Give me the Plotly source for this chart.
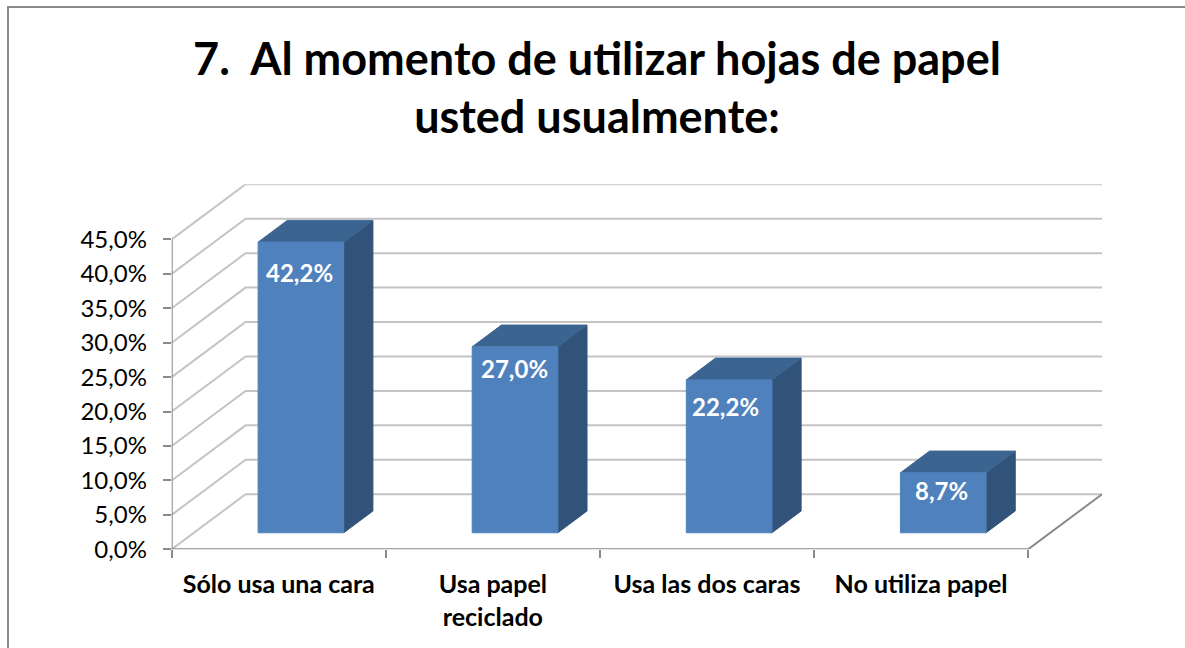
import plotly.graph_objects as go

categories = ["Sólo usa una cara", "Usa papel<br>reciclado", "Usa las dos caras", "No utiliza papel"]
values = [42.2, 27.0, 22.2, 8.7]
value_labels = ["42,2%", "27,0%", "22,2%", "8,7%"]
y_ticks = [0, 5, 10, 15, 20, 25, 30, 35, 40, 45]
y_tick_labels = ["0,0%", "5,0%", "10,0%", "15,0%", "20,0%", "25,0%", "30,0%", "35,0%", "40,0%", "45,0%"]
title_text = "7.\u00a0\u00a0Al momento de utilizar hojas de papel<br>usted usualmente:"

W, H = 1185, 648
# oblique projection of the depth axis, in axis units
DX, DY = 0.345, 8.0
BAR_W = 0.40
D_FRONT, D_BACK = 0.30, 0.695
FRONT, TOP, SIDE = "#4F81BD", "#3C6491", "#325379"
GRID, AXIS = "#C4C4C4", "#8A8A8A"
# hand-placed data labels in the reference (pixels from bar top centre)
label_dx = [-1, -1, -4, -2]
label_dy = [-30, -22, -27, -18]


def proj(x, y, d):
    return x + d * DX, y + d * DY


fig = go.Figure()


def line(pts, color, width=2):
    fig.add_trace(go.Scatter(x=[p[0] for p in pts], y=[p[1] for p in pts], mode="lines",
                             line=dict(color=color, width=width), cliponaxis=False,
                             hoverinfo="skip", showlegend=False))


def face(pts, color):
    pts = pts + [pts[0]]
    fig.add_trace(go.Scatter(x=[p[0] for p in pts], y=[p[1] for p in pts], mode="lines", fill="toself",
                             fillcolor=color, line=dict(color=color, width=1), cliponaxis=False,
                             hoverinfo="skip", showlegend=False))


n = len(categories)
for t in y_ticks:
    line([proj(0, t, 0), proj(0, t, 1), proj(n, t, 1)], GRID)
line([proj(0, 0, 0), proj(0, y_ticks[-1], 0)], AXIS)
line([proj(0, 0, 0), proj(n, 0, 0), proj(n, 0, 1)], AXIS)

annotations = []
for i, v in enumerate(values):
    x0, x1 = i + 0.5 - BAR_W / 2, i + 0.5 + BAR_W / 2
    face([proj(x1, 0, D_FRONT), proj(x1, 0, D_BACK), proj(x1, v, D_BACK), proj(x1, v, D_FRONT)], SIDE)
    face([proj(x0, v, D_FRONT), proj(x0, v, D_BACK), proj(x1, v, D_BACK), proj(x1, v, D_FRONT)], TOP)
    face([proj(x0, 0, D_FRONT), proj(x1, 0, D_FRONT), proj(x1, v, D_FRONT), proj(x0, v, D_FRONT)], FRONT)
    cx, cy = proj(i + 0.5, v, D_FRONT)
    annotations.append(dict(x=cx, y=cy, xref="x", yref="y", text=value_labels[i], showarrow=False,
                            xshift=label_dx[i], yshift=label_dy[i], xanchor="center", yanchor="middle",
                            font=dict(family="Lato", size=24, color="white", weight="bold")))

fig.update_layout(
    width=W, height=H, autosize=False,
    margin=dict(l=0, r=0, t=0, b=0),
    paper_bgcolor="white", plot_bgcolor="rgba(0,0,0,0)",
    showlegend=False,
    title=dict(text=title_text, x=597 / W, xanchor="center", y=1 - 74.5 / H, yanchor="middle",
               font=dict(family="Lato", size=45, color="black", weight="bold")),
    xaxis=dict(domain=[171.7 / W, 1102 / W], range=[0, n + DX], showgrid=False, zeroline=False, showline=False,
               automargin=False,
               tickmode="array", tickvals=[i + 0.5 for i in range(n)], ticktext=categories,
               ticks="outside", ticklen=0, ticklabelstandoff=13,
               tickfont=dict(family="Lato", size=25, color="black", weight="bold"),
               minor=dict(tickmode="array", tickvals=list(range(n + 1)), ticks="outside", ticklen=8,
                          tickcolor=AXIS, tickwidth=2),
               fixedrange=True),
    yaxis=dict(domain=[(H - 549.3) / H, (H - 184.3) / H], range=[0, y_ticks[-1] + DY], showgrid=False,
               zeroline=False, showline=False, automargin=False,
               tickmode="array", tickvals=y_ticks, ticktext=y_tick_labels,
               ticks="outside", ticklen=8, tickcolor=AXIS, tickwidth=2, ticklabelstandoff=11,
               tickfont=dict(family="Lato", size=24, color="black"), fixedrange=True),
    annotations=annotations,
    shapes=[dict(type="path", xref="paper", yref="paper",
                 path=f"M {8 / W} 0 L {8 / W} {1 - 7 / H} L 1 {1 - 7 / H}",
                 line=dict(color="#8C8C8C", width=2))],
)

fig.write_html("out.html", config=dict(displayModeBar=False),
               post_script="document.body.style.margin='0';")
